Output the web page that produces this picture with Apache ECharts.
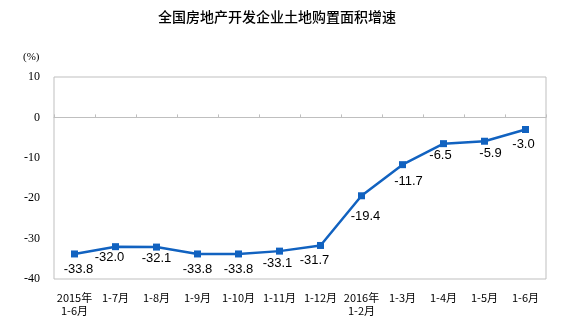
<!DOCTYPE html>
<html>
<head>
<meta charset="utf-8">
<script src="https://cdn.jsdelivr.net/npm/echarts@6/dist/echarts.min.js"></script>
<style>
  html, body { margin: 0; padding: 0; background: #fff; }
  #chart { width: 586px; height: 326px; }
</style>
</head>
<body>
<div id="chart"></div>
<script>
// Growth of land area purchased by real-estate developers (cumulative, %)
const categories = ['2015年\n1-6月', '1-7月', '1-8月', '1-9月', '1-10月', '1-11月', '1-12月',
                    '2016年\n1-2月', '1-3月', '1-4月', '1-5月', '1-6月'];
const growth = [-33.8, -32.0, -32.1, -33.8, -33.8, -33.1, -31.7, -19.4, -11.7, -6.5, -5.9, -3.0];
const yTicks = [10, 0, -10, -20, -30, -40];

// small per-point nudges for the value labels [dx, dy]
const labelNudge = [[4, 0], [-6, -4], [0, -4], [0, 0], [0, 0], [-2, -3], [-6, 0],
                    [4, 6], [6, 2], [-3, -3], [6, -3], [-2, 0]];

const chart = echarts.init(document.getElementById('chart'), null, { renderer: 'canvas' });

const blue = '#1162c0';
const cnFont = '"Noto Sans CJK SC", sans-serif';
const numFont = '"Liberation Serif", "Times New Roman", serif';

chart.setOption({
  animation: false,
  backgroundColor: '#ffffff',
  title: {
    text: '全国房地产开发企业土地购置面积增速',
    left: 153,
    top: 5,
    textStyle: { fontFamily: cnFont, fontSize: 14, fontWeight: 500, color: '#000' }
  },
  grid: {
    left: 54, right: 40, top: 77, bottom: 47,
    show: true, borderColor: '#bfbfbf', borderWidth: 1, backgroundColor: 'transparent'
  },
  graphic: [{
    type: 'text', left: 23, top: 52,
    style: { text: '(%)', font: '11px ' + numFont, fill: '#000' }
  }],
  xAxis: [{
    // category labels along the bottom edge
    type: 'category', data: categories, boundaryGap: true,
    position: 'bottom',
    axisLine: { show: false, onZero: false },
    axisTick: { show: false },
    axisLabel: {
      interval: 0, color: '#000', fontSize: 11, fontFamily: cnFont,
      lineHeight: 13, margin: 12
    }
  }, {
    // zero line with its tick marks
    type: 'category', data: categories, boundaryGap: true,
    position: 'bottom',
    axisLine: { show: true, onZero: true, lineStyle: { color: '#bfbfbf', width: 1 } },
    axisTick: { show: true, inside: true, length: 3, interval: 0, lineStyle: { color: '#bfbfbf' } },
    axisLabel: { show: false }
  }],
  yAxis: {
    type: 'value', min: yTicks[yTicks.length - 1], max: yTicks[0], interval: 10,
    axisLine: { show: false },
    axisTick: { show: false },
    splitLine: { show: false },
    axisLabel: { color: '#000', fontSize: 12, fontFamily: numFont, margin: 14 }
  },
  series: [{
    type: 'line',
    xAxisIndex: 0,
    data: growth.map((v, i) => ({
      value: v,
      label: { offset: labelNudge[i] }
    })),
    lineStyle: { color: blue, width: 2.5 },
    itemStyle: { color: blue },
    symbol: 'rect',
    symbolSize: 7,
    label: {
      show: true, position: 'bottom', distance: 5,
      color: '#000', fontSize: 13, fontFamily: '"Liberation Sans", Arial, sans-serif',
      formatter: p => p.value.toFixed(1)
    }
  }]
});
</script>
</body>
</html>
